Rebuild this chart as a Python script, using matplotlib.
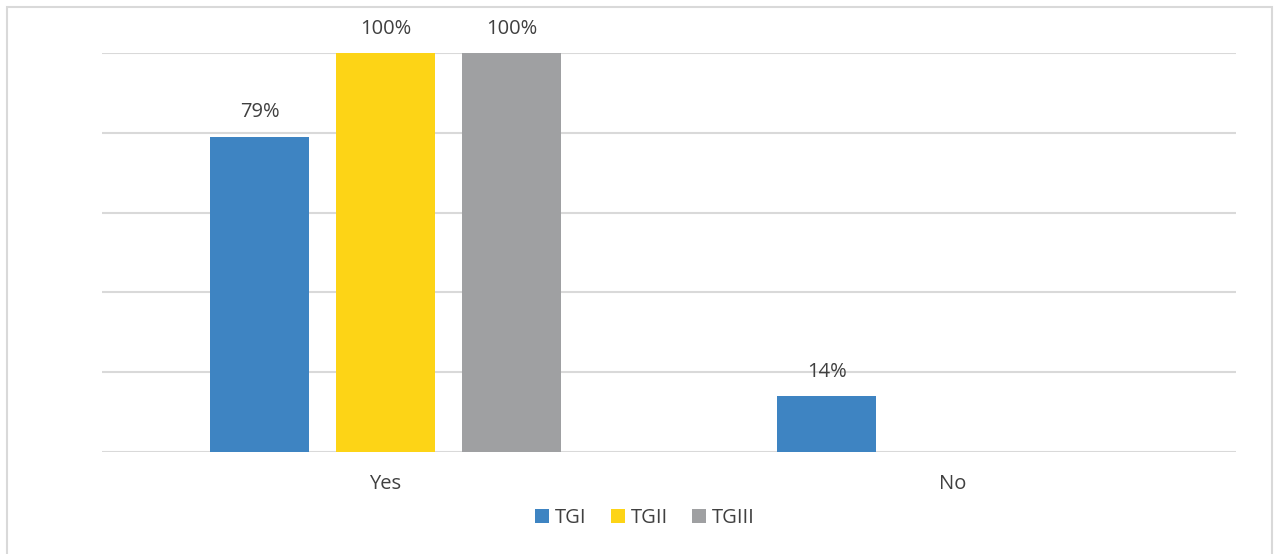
import numpy as np
import matplotlib.pyplot as plt
from matplotlib.patches import Rectangle

categories = ["Yes", "No"]
series = ["TGI", "TGII", "TGIII"]
values = {
    "TGI": [0.79, 0.14],
    "TGII": [1.00, 0.0],
    "TGIII": [1.00, 0.0],
}
colors = {"TGI": "#3E84C2", "TGII": "#FDD416", "TGIII": "#9FA0A2"}

plt.rcParams['font.family'] = ['Open Sans', 'DejaVu Sans']
txt = '#404040'
fs = 14.5

fig = plt.figure(figsize=(12.74, 5.54), dpi=100)
ax = fig.add_axes([102 / 1274, 1 - 452 / 554, 1134 / 1274, 399 / 554])

# outer chart border
fig.patches.append(Rectangle((7 / 1274, -0.01), 1265 / 1274, 1 - 7 / 554 + 0.01,
                             transform=fig.transFigure, fill=False,
                             edgecolor='#D9D9D9', linewidth=1.5))

x = np.arange(len(categories))
width = 0.175
step = 0.222
for i, s in enumerate(series):
    vals = values[s]
    bars = ax.bar(x + (i - 1) * step, vals, width, color=colors[s], label=s, zorder=3)
    for b, v in zip(bars, vals):
        if v > 0:
            ax.text(b.get_x() + b.get_width() / 2, v + 0.036, f"{round(v * 100)}%",
                    ha='center', va='bottom', fontsize=fs, color=txt)

ax.set_xlim(-0.5, 1.5)
ax.set_ylim(0, 1.0)
ax.set_yticks(np.arange(0, 1.01, 0.2))
ax.yaxis.grid(True, color='#D9D9D9', linewidth=1.5, zorder=0)
ax.tick_params(axis='y', length=0, labelleft=False)
ax.tick_params(axis='x', length=0, labelsize=fs, labelcolor=txt, pad=16)
ax.set_xticks(x)
ax.set_xticklabels(categories)
for sp in ax.spines.values():
    sp.set_visible(False)

leg = fig.legend(loc='center', bbox_to_anchor=(645 / 1274, 1 - 518 / 554), ncol=3,
                 frameon=False, fontsize=fs, handlelength=0.7, handleheight=0.7,
                 handletextpad=0.3, columnspacing=1.2)
for t in leg.get_texts():
    t.set_color(txt)

fig.savefig('out.png', dpi=100)
